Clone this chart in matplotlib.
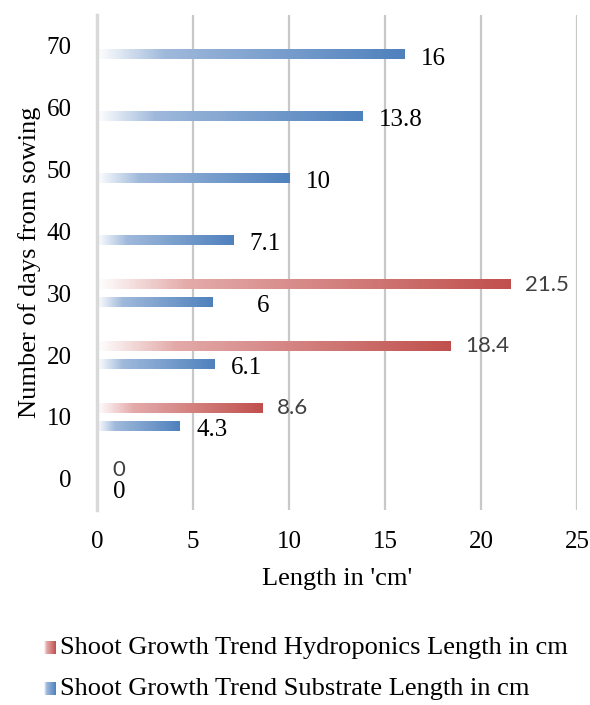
import numpy as np
import matplotlib.pyplot as plt
from matplotlib.colors import LinearSegmentedColormap

days = [0, 10, 20, 30, 40, 50, 60, 70]
hydro = [0, 8.6, 18.4, 21.5, np.nan, np.nan, np.nan, np.nan]
substrate = [0, 4.3, 6.1, 6, 7.1, 10, 13.8, 16]
hydro_name = 'Shoot Growth Trend Hydroponics Length in cm'
substrate_name = 'Shoot Growth Trend Substrate Length in cm'
x_ticks = [0, 5, 10, 15, 20, 25]

SERIF = 'Liberation Serif'
RED_CMAP = LinearSegmentedColormap.from_list(
    'red_fade', [(0, '#ffffff'), (0.22, '#e3aaa9'), (1, '#c0504d')])
BLUE_CMAP = LinearSegmentedColormap.from_list(
    'blue_fade', [(0, '#ffffff'), (0.22, '#9fb9db'), (1, '#4f81bd')])
GRAD = np.linspace(0, 1, 256).reshape(1, -1)


def gradient_bar(ax, y, length, height, cmap):
    if np.isnan(length) or length <= 0:
        return
    ax.imshow(GRAD, cmap=cmap, aspect='auto', interpolation='bilinear',
              extent=(0, length, y - height / 2, y + height / 2), zorder=3)


fig = plt.figure(figsize=(5.9, 7.05), dpi=100)
ax = fig.add_axes([0.164, 0.277, 0.814, 0.702])

pos = np.arange(len(days))
bar_h = 0.16
shift = 0.14
for i in pos:
    gradient_bar(ax, i + shift, hydro[i], bar_h, RED_CMAP)
    gradient_bar(ax, i - shift, substrate[i], bar_h, BLUE_CMAP)

# value labels: hydroponics in grey sans, substrate in black serif
for i in pos:
    if not np.isnan(hydro[i]):
        ax.annotate(f'{hydro[i]:g}', (hydro[i], i + shift), xytext=(11, 0),
                    textcoords='offset points', ha='left', va='center',
                    fontsize=16, color='#404040', family='Lato')
    dx = 32 if substrate[i] == 6 else 12
    ax.annotate(f'{substrate[i]:g}', (substrate[i], i - shift), xytext=(dx, -3),
                textcoords='offset points', ha='left', va='center',
                fontsize=18, color='black', family=SERIF)

ax.set_xlim(0, 25)
ax.set_ylim(-0.5, len(days) - 0.5)
ax.set_xticks(x_ticks)
ax.set_xticklabels([str(t) for t in x_ticks], fontsize=18, family=SERIF)
ax.set_yticks(pos)
ax.set_yticklabels([str(d) for d in days], fontsize=18, family=SERIF)
ax.tick_params(axis='both', length=0)
ax.tick_params(axis='x', pad=15)
ax.tick_params(axis='y', pad=18)
ax.grid(axis='x', color='#c8c8c8', linewidth=1.6, zorder=0)
ax.set_axisbelow(True)
for side in ['top', 'right', 'bottom']:
    ax.spines[side].set_visible(False)
ax.spines['left'].set_color('#d9d9d9')
ax.spines['left'].set_linewidth(2.5)
ax.spines['left'].set_zorder(4)

ax.set_xlabel("Length in 'cm'", fontsize=19, family=SERIF, labelpad=11)
ax.set_ylabel('Number of days from sowing', fontsize=19, family=SERIF, labelpad=4)

# legend built by hand so the swatches keep the same fade
for k, (name, cmap) in enumerate([(hydro_name, RED_CMAP), (substrate_name, BLUE_CMAP)]):
    yc = 1 - (648 + 41 * k) / 705
    sw = fig.add_axes([44 / 590, yc - 6 / 705, 12 / 590, 13 / 705])
    sw.imshow(GRAD, cmap=cmap, aspect='auto', extent=(0, 1, 0, 1))
    sw.axis('off')
    fig.text(60 / 590, yc, name, fontsize=19, family=SERIF, va='center', ha='left')

fig.savefig('out.png', dpi=100)
